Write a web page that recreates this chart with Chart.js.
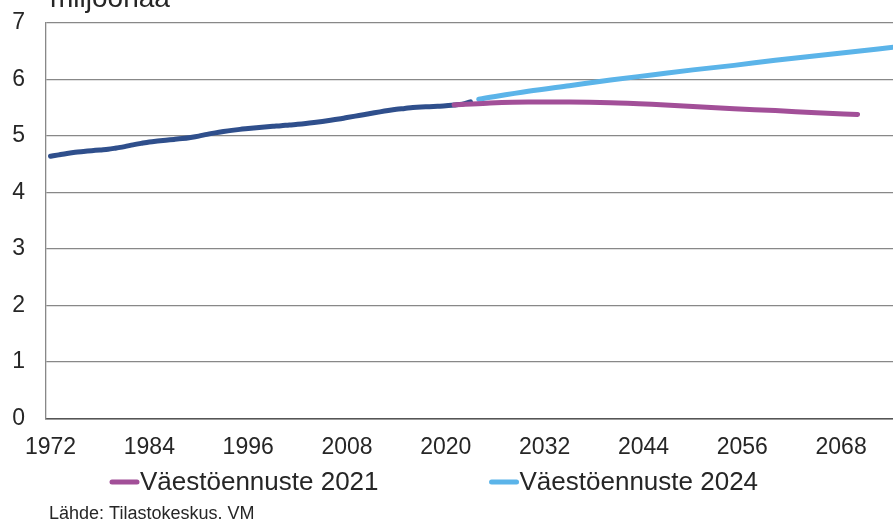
<!DOCTYPE html>
<html>
<head>
<meta charset="utf-8">
<script src="https://cdn.jsdelivr.net/npm/chart.js@4"></script>
<style>
  body { margin: 0; background: #fff; }
  #wrap { width: 893px; height: 521px; position: relative; }
</style>
</head>
<body>
<div id="wrap"><canvas id="myChart"></canvas></div>
<script>
// Data (millions)
const unitLabel = 'miljoonaa';
const sourceText = 'Lähde: Tilastokeskus. VM';
const xTicks = [1972, 1984, 1996, 2008, 2020, 2032, 2044, 2056, 2068];
const yTicks = [0, 1, 2, 3, 4, 5, 6, 7];

// historical population, one value per year from 1972
const histStart = 1972;
const histValues = [4.640, 4.666, 4.691, 4.712, 4.726, 4.739, 4.753, 4.765, 4.788, 4.812,
    4.842, 4.869, 4.894, 4.911, 4.926, 4.939, 4.954, 4.974, 4.998, 5.029,
    5.055, 5.078, 5.099, 5.117, 5.132, 5.147, 5.160, 5.171, 5.181, 5.195,
    5.206, 5.220, 5.237, 5.256, 5.277, 5.300, 5.326, 5.351, 5.375, 5.401,
    5.427, 5.451, 5.472, 5.487, 5.503, 5.513, 5.518, 5.525, 5.533, 5.548,
    5.564, 5.604];

const proj2021Label = 'Väestöennuste 2021';
const proj2021Years = [2021, 2025, 2030, 2035, 2040, 2045, 2050, 2055, 2060, 2065, 2070];
const proj2021Values = [5.55, 5.58, 5.60, 5.60, 5.59, 5.56, 5.52, 5.48, 5.45, 5.41, 5.38];

const proj2024Label = 'Väestöennuste 2024';
const proj2024Years = [2024, 2030, 2035, 2040, 2045, 2050, 2055, 2060, 2065, 2070, 2075];
const proj2024Values = [5.65, 5.79, 5.89, 5.99, 6.08, 6.17, 6.25, 6.34, 6.42, 6.50, 6.58];

const FONT = '"Liberation Sans", Arial, sans-serif';
const TEXT = '#262626';

const toPoints = (xs, ys) => xs.map((x, i) => ({ x: x, y: ys[i] }));

// unit label, legend and source drawn on the canvas
const extras = {
    id: 'extras',
    afterDraw(chart) {
        const ctx = chart.ctx;
        ctx.save();
        ctx.fillStyle = TEXT;
        ctx.textBaseline = 'alphabetic';
        ctx.textAlign = 'left';

        ctx.font = '28px ' + FONT;
        ctx.fillText(unitLabel, 50, 7);

        ctx.font = '26px ' + FONT;
        let x = 110;
        chart.data.datasets.forEach(ds => {
            if (!ds.showInLegend) return;
            ctx.strokeStyle = ds.borderColor;
            ctx.lineWidth = 5;
            ctx.lineCap = 'round';
            ctx.beginPath();
            ctx.moveTo(x + 2, 482);
            ctx.lineTo(x + 27, 482);
            ctx.stroke();
            ctx.fillText(ds.label, x + 30, 490);
            x += 30 + ctx.measureText(ds.label).width + 111;
        });

        ctx.font = '18px ' + FONT;
        ctx.fillText(sourceText, 49, 519);
        ctx.restore();
    }
};

const ctx = document.getElementById('myChart').getContext('2d');
const chart = new Chart(ctx, {
    type: 'line',
    data: {
        datasets: [
            {
                label: proj2021Label,
                data: toPoints(proj2021Years, proj2021Values),
                borderColor: '#a24f98',
                showInLegend: true,
                order: 1
            },
            {
                label: proj2024Label,
                data: toPoints(proj2024Years, proj2024Values),
                borderColor: '#5bb4e9',
                showInLegend: true,
                order: 2
            },
            {
                label: 'Toteutunut',
                data: histValues.map((v, i) => ({ x: histStart + i, y: v })),
                borderColor: '#2f4f8c',
                showInLegend: false,
                order: 3
            }
        ]
    },
    options: {
        responsive: true,
        maintainAspectRatio: false,
        animation: false,
        layout: { padding: { left: 0, right: 0, top: 23, bottom: 45 } },
        elements: {
            point: { radius: 0 },
            line: { borderWidth: 5, cubicInterpolationMode: 'monotone', borderCapStyle: 'round', fill: false }
        },
        plugins: {
            legend: { display: false },
            tooltip: { enabled: false }
        },
        scales: {
            x: {
                type: 'linear',
                // categories sit half a step in from the axis, as in the original
                min: 1971.45,
                max: 2074.3,
                afterBuildTicks: s => { s.ticks = xTicks.map(v => ({ value: v })); },
                afterFit: s => { s.paddingLeft = 0; s.paddingRight = 0; },
                ticks: {
                    font: { family: FONT, size: 23 },
                    color: TEXT,
                    padding: 15,
                    maxRotation: 0,
                    callback: v => String(v)
                },
                grid: { display: false, drawTicks: false },
                border: { display: true, color: '#555', width: 1.5 }
            },
            y: {
                min: 0,
                max: 7,
                afterBuildTicks: s => { s.ticks = yTicks.map(v => ({ value: v })); },
                afterFit: s => { s.width = 46; s.paddingTop = 0; s.paddingBottom = 0; },
                ticks: {
                    font: { family: FONT, size: 23 },
                    color: TEXT,
                    padding: 21
                },
                grid: { color: '#888', lineWidth: 1.3, drawTicks: false },
                border: { display: true, color: '#888', width: 1.3 }
            }
        }
    },
    plugins: [extras]
});
</script>
</body>
</html>
